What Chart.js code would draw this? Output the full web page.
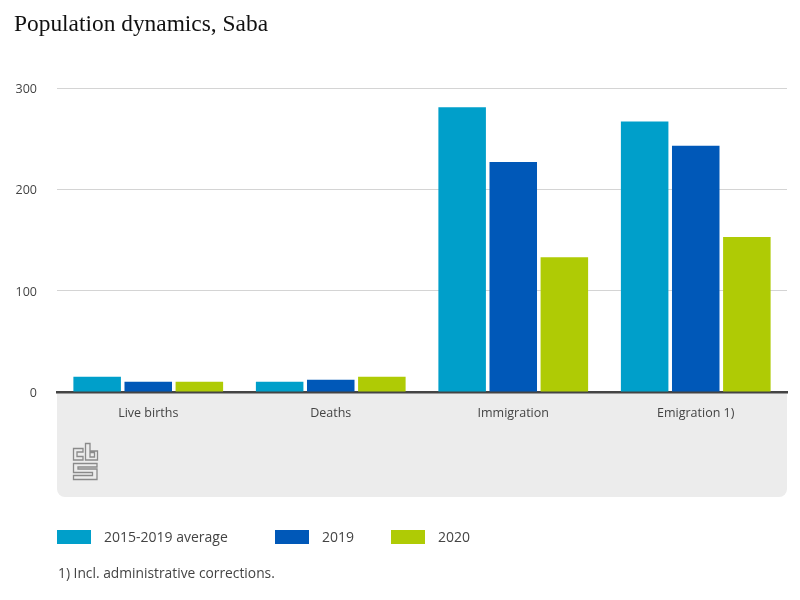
<!DOCTYPE html>
<html>
<head>
<meta charset="utf-8">
<title>Population dynamics, Saba</title>
<script src="https://cdn.jsdelivr.net/npm/chart.js@4/dist/chart.umd.min.js"></script>
<style>
    html, body { margin: 0; padding: 0; background: #fff; }
    #wrap { position: relative; width: 800px; height: 600px; overflow: hidden; font-family: "Open Sans", sans-serif; color: #444; }
    #chart { position: absolute; left: 0; top: 0; }
    #title { position: absolute; left: 14px; top: 10px; font: 23.4px "Liberation Serif", serif; color: #111; white-space: nowrap; }
    #logo { position: absolute; left: 72px; top: 442px; }
    .swatch { position: absolute; top: 530px; width: 34px; height: 14px; }
    .legendText { position: absolute; top: 528px; font-size: 14px; line-height: 18px; white-space: nowrap; }
    #note { position: absolute; left: 58px; top: 564px; font-size: 13.8px; line-height: 18px; white-space: nowrap; }
</style>
</head>
<body>
<div id="wrap">
    <canvas id="chart" width="800" height="600"></canvas>
    <div id="title">Population dynamics, Saba</div>
    <svg id="logo" width="27" height="39" viewBox="0 0 27 39" fill="none" stroke="#8a8a8a" stroke-width="1.3">
        <path d="M11 6.5H1.5V18H11V14.5H5V10H11Z"/>
        <path d="M13.5 1.5H18V9H25.5V18H13.5ZM18 10.5H22.5V15H18Z"/>
        <path d="M25 21.5H1.5V30.5H20.5V33.5H1.5V37.5H25V27H6V25H25Z"/>
    </svg>
    <div id="note">1) Incl. administrative corrections.</div>
</div>

<script>
    /* ================= DATA ================= */

    const categories = ["Live births", "Deaths", "Immigration", "Emigration 1)"];
    const seriesNames = ["2015-2019 average", "2019", "2020"];
    const average = [15, 10, 281, 267];
    const year2019 = [10, 12, 227, 243];
    const year2020 = [10, 15, 133, 153];
    const yTicks = [0, 100, 200, 300];
    const colors = ["#009fca", "#0058b8", "#afcb05"];

    /* ================= LEGEND ================= */

    const wrap = document.querySelector("#wrap");
    const swatchX = [57, 275, 391];
    const labelX = [104, 322, 438];

    seriesNames.forEach((name, i) => {
        const swatch = document.createElement("div");
        swatch.className = "swatch";
        swatch.style.left = swatchX[i] + "px";
        swatch.style.background = colors[i];
        wrap.appendChild(swatch);

        const text = document.createElement("div");
        text.className = "legendText";
        text.style.left = labelX[i] + "px";
        text.textContent = name;
        wrap.appendChild(text);
    });

    /* ================= CHART ================= */

    // grey panel under the x axis, rounded at the bottom
    const panelPlugin = {
        id: "panel",
        beforeDraw(chart) {
            const { ctx, chartArea } = chart;
            ctx.save();
            ctx.fillStyle = "#ececec";
            ctx.beginPath();
            ctx.roundRect(
                chartArea.left,
                chartArea.bottom,
                chartArea.right - chartArea.left,
                105,
                [0, 0, 8, 8]
            );
            ctx.fill();
            ctx.restore();
        }
    };

    new Chart(document.getElementById("chart"), {
        type: "bar",
        data: {
            labels: categories,
            datasets: [average, year2019, year2020].map((values, i) => ({
                label: seriesNames[i],
                data: values,
                backgroundColor: colors[i],
                categoryPercentage: 0.84,
                barPercentage: 0.93,
            }))
        },
        options: {
            responsive: false,
            animation: false,
            devicePixelRatio: 1,
            layout: { padding: { top: 88, right: 13, left: 0, bottom: 0 } },
            plugins: {
                legend: { display: false },
                title: { display: false },
                tooltip: { enabled: false }
            },
            scales: {
                x: {
                    afterFit: scale => { scale.height = 208; },
                    grid: { display: false, drawTicks: false },
                    border: { display: true, color: "#444", width: 2.5 },
                    ticks: {
                        color: "#444",
                        padding: 14,
                        maxRotation: 0,
                        font: { family: "Open Sans", size: 12.5 }
                    }
                },
                y: {
                    min: 0,
                    max: 300,
                    afterFit: scale => { scale.width = 57; },
                    afterBuildTicks: scale => {
                        scale.ticks = yTicks.map(value => ({ value }));
                    },
                    grid: { color: "#d4d4d4", lineWidth: 1, drawTicks: false },
                    border: { display: false },
                    ticks: {
                        color: "#444",
                        padding: 20,
                        labelOffset: 1.5,
                        font: { family: "Open Sans", size: 12.5 }
                    }
                }
            }
        },
        plugins: [panelPlugin]
    });
</script>
</body>
</html>
